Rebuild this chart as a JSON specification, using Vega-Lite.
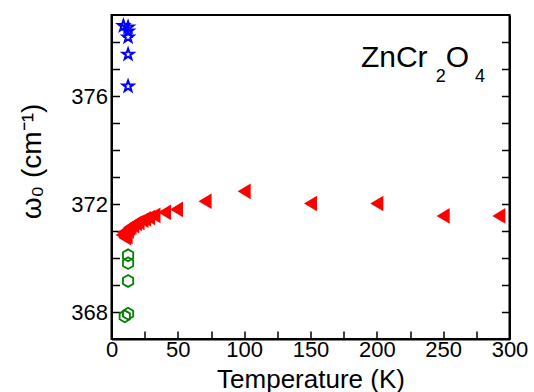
{
  "$schema": "https://vega.github.io/schema/vega-lite/v6.json",
  "width": 398,
  "height": 324,
  "autosize": {"type": "none"},
  "padding": {"left": 111.5, "top": 15, "right": 24.5, "bottom": 53},
  "background": "white",
  "config": {
    "font": "Liberation Sans",
    "view": {"stroke": "black", "strokeWidth": 2},
    "axis": {
      "grid": false,
      "domainColor": "black",
      "domainWidth": 2,
      "tickColor": "black",
      "tickWidth": 1.5,
      "labelColor": "black",
      "titleColor": "black",
      "labelFont": "Liberation Sans",
      "titleFont": "Liberation Sans",
      "labelFontSize": 22,
      "titleFontSize": 26,
      "titleFontWeight": "normal",
      "labelOverlap": false,
      "labelFlush": false
    }
  },
  "datasets": {
    "pts": [
      {"T": 9, "w": 378.6, "series": "star"},
      {"T": 12.5, "w": 378.55, "series": "star"},
      {"T": 12.5, "w": 378.4, "series": "star"},
      {"T": 12.5, "w": 378.18, "series": "star"},
      {"T": 12.5, "w": 377.54, "series": "star"},
      {"T": 12.5, "w": 376.36, "series": "star"},
      {"T": 12.5, "w": 370.1, "series": "hex"},
      {"T": 12.5, "w": 369.81, "series": "hex"},
      {"T": 12.5, "w": 369.15, "series": "hex"},
      {"T": 12.5, "w": 367.94, "series": "hex"},
      {"T": 10, "w": 367.84, "series": "hex"},
      {"T": 8, "w": 370.85, "series": "tri"},
      {"T": 9, "w": 370.95, "series": "tri"},
      {"T": 10, "w": 370.75, "series": "tri"},
      {"T": 11, "w": 370.8, "series": "tri"},
      {"T": 12, "w": 371.0, "series": "tri"},
      {"T": 13, "w": 371.1, "series": "tri"},
      {"T": 14, "w": 371.15, "series": "tri"},
      {"T": 16, "w": 371.2, "series": "tri"},
      {"T": 18, "w": 371.28, "series": "tri"},
      {"T": 20, "w": 371.32, "series": "tri"},
      {"T": 23, "w": 371.4, "series": "tri"},
      {"T": 25, "w": 371.45, "series": "tri"},
      {"T": 28, "w": 371.5, "series": "tri"},
      {"T": 32, "w": 371.58, "series": "tri"},
      {"T": 40, "w": 371.69, "series": "tri"},
      {"T": 49, "w": 371.8, "series": "tri"},
      {"T": 70.5, "w": 372.1, "series": "tri"},
      {"T": 100, "w": 372.47, "series": "tri"},
      {"T": 150, "w": 372.02, "series": "tri"},
      {"T": 200, "w": 372.02, "series": "tri"},
      {"T": 250, "w": 371.56, "series": "tri"},
      {"T": 292, "w": 371.56, "series": "tri"}
    ]
  },
  "layer": [
    {
      "data": {"name": "pts"},
      "transform": [{"filter": "datum.series === 'tri'"}],
      "mark": {"type": "point", "shape": "M-1,0 L1,-1.2 L1,1.2 Z", "filled": true, "color": "#ff0000", "opacity": 1, "size": 170},
      "encoding": {
        "x": {
          "field": "T", "type": "quantitative",
          "scale": {"domain": [0, 300], "nice": false, "zero": false},
          "axis": {
            "orient": "bottom",
            "values": [0, 25, 50, 75, 100, 125, 150, 175, 200, 225, 250, 275, 300],
            "labelExpr": "datum.value % 50 === 0 ? datum.label : ''",
            "tickSize": -8,
            "labelPadding": 8,
            "title": "Temperature (K)",
            "titleY": 48,
            "titleBaseline": "alphabetic"
          }
        },
        "y": {
          "field": "w", "type": "quantitative",
          "scale": {"domain": [367, 379], "nice": false, "zero": false},
          "axis": {
            "orient": "left",
            "values": [368, 369, 370, 371, 372, 373, 374, 375, 376, 377, 378],
            "labelExpr": "datum.value % 4 === 0 ? datum.label : ''",
            "tickSize": -8,
            "labelPadding": 12,
            "title": "ω₀ (cm⁻¹)",
            "titleFontSize": 28,
            "titleX": -71.5,
            "titleY": 146,
            "titleAngle": -90,
            "titleBaseline": "alphabetic",
            "titleAlign": "center"
          }
        }
      }
    },
    {
      "data": {"name": "pts"},
      "transform": [{"filter": "datum.series === 'star'"}],
      "mark": {"type": "point", "shape": "M0,-1 L0.235,-0.324 L0.951,-0.309 L0.38,0.124 L0.588,0.809 L0,0.4 L-0.588,0.809 L-0.38,0.124 L-0.951,-0.309 L-0.235,-0.324 Z", "filled": false, "color": "#0000ff", "opacity": 1, "strokeWidth": 2, "size": 135},
      "encoding": {
        "x": {"field": "T", "type": "quantitative", "axis": null},
        "y": {"field": "w", "type": "quantitative", "axis": null}
      }
    },
    {
      "data": {"name": "pts"},
      "transform": [{"filter": "datum.series === 'hex'"}],
      "mark": {"type": "point", "shape": "M0,-1 L0.866,-0.5 L0.866,0.5 L0,1 L-0.866,0.5 L-0.866,-0.5 Z", "filled": false, "color": "#008000", "opacity": 1, "strokeWidth": 1.8, "size": 140},
      "encoding": {
        "x": {"field": "T", "type": "quantitative", "axis": null},
        "y": {
          "field": "w", "type": "quantitative",
          "axis": {
            "orient": "right",
            "values": [368, 369, 370, 371, 372, 373, 374, 375, 376, 377, 378],
            "labels": false,
            "tickSize": -8,
            "title": null
          }
        }
      }
    },
    {
      "data": {"values": [{"label": "ZnCr"}]},
      "mark": {"type": "text", "fontSize": 30, "align": "left", "baseline": "alphabetic", "fill": "black"},
      "encoding": {"x": {"datum": 188, "type": "quantitative", "axis": null}, "y": {"datum": 377.07, "type": "quantitative", "axis": null}, "text": {"field": "label", "type": "nominal"}}
    },
    {
      "data": {"values": [{"label": "2"}]},
      "mark": {"type": "text", "fontSize": 18, "align": "left", "baseline": "alphabetic", "fill": "black"},
      "encoding": {"x": {"datum": 244.5, "type": "quantitative", "axis": null}, "y": {"datum": 376.51, "type": "quantitative", "axis": null}, "text": {"field": "label", "type": "nominal"}}
    },
    {
      "data": {"values": [{"label": "O"}]},
      "mark": {"type": "text", "fontSize": 30, "align": "left", "baseline": "alphabetic", "fill": "black"},
      "encoding": {"x": {"datum": 252, "type": "quantitative", "axis": null}, "y": {"datum": 377.07, "type": "quantitative", "axis": null}, "text": {"field": "label", "type": "nominal"}}
    },
    {
      "data": {"values": [{"label": "4"}]},
      "mark": {"type": "text", "fontSize": 18, "align": "left", "baseline": "alphabetic", "fill": "black"},
      "encoding": {"x": {"datum": 274, "type": "quantitative", "axis": null}, "y": {"datum": 376.51, "type": "quantitative", "axis": null}, "text": {"field": "label", "type": "nominal"}}
    }
  ],
  "resolve": {"axis": {"x": "independent", "y": "independent"}}
}
